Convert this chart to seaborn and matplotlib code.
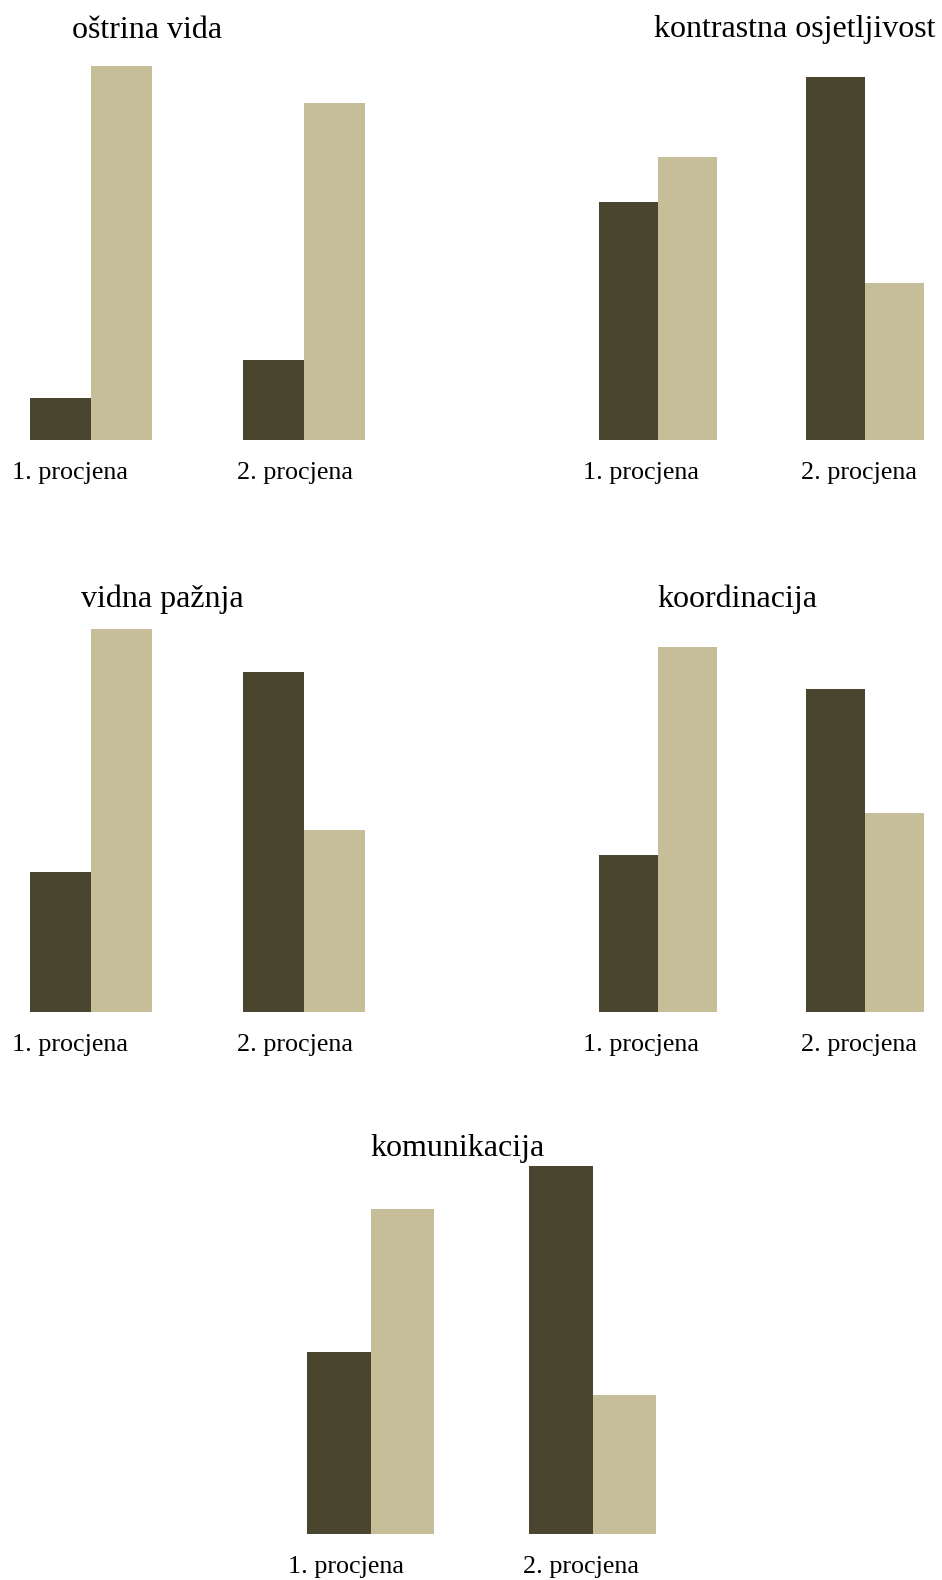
import matplotlib
matplotlib.use("Agg")
import matplotlib.pyplot as plt
import matplotlib.transforms as mtransforms
import seaborn as sns
import pandas as pd

# data (percent of participants)
titles = ["oštrina vida", "kontrastna osjetljivost", "vidna pažnja",
          "koordinacija", "komunikacija"]
assessments = ["1. procjena", "2. procjena"]
series = ["skupina 1", "skupina 2"]
dark_values = [[10.2, 19.2], [45.7, 69.8], [26.8, 65.1], [30.1, 61.9], [35.8, 72.6]]
light_values = [[89.8, 80.8], [54.3, 30.2], [73.2, 34.9], [69.9, 38.1], [64.2, 27.4]]

colors = ["#4a452e", "#c5be98"]
bar_width = 0.572

W, H, DPI = 942, 1580, 100

# layout in pixels: axes box (left, right, baseline, top of tallest bar)
boxes = [(29.7, 364.7, 440, 66), (598.7, 924, 440, 76.7),
         (29.7, 364.7, 1012.3, 629.3), (598.7, 924, 1012.3, 646.7),
         (307.3, 656.3, 1533.7, 1166)]
title_pos = [(147.5, 38), (794.5, 37), (162.7, 607), (737.2, 607), (457.8, 1156)]
label_shift = [(-20.7, -8.7), (-17.1, -5.7), (-20.7, -8.7), (-17.1, -5.7), (-24.8, -11.8)]
label_gap = [38.5, 38.5, 39, 39, 39.5]

sns.set_theme(style="white")
plt.rcParams["font.family"] = ["Liberation Serif", "DejaVu Serif"]

fig = plt.figure(figsize=(W / DPI, H / DPI), dpi=DPI)

for i, title in enumerate(titles):
    df = pd.DataFrame({
        "procjena": assessments * 2,
        "skupina": [series[0]] * 2 + [series[1]] * 2,
        "postotak": dark_values[i] + light_values[i],
    })
    left, right, bottom, top = boxes[i]
    ax = fig.add_axes([left / W, 1 - bottom / H, (right - left) / W, (bottom - top) / H])
    sns.barplot(data=df, x="procjena", y="postotak", hue="skupina",
                order=assessments, hue_order=series, palette=colors,
                width=bar_width, saturation=1, errorbar=None, linewidth=0,
                legend=False, ax=ax)
    ax.set_xlim(-bar_width / 2, 1 + bar_width / 2)
    ax.set_ylim(0, df["postotak"].max())
    ax.set_yticks([])
    ax.set_xlabel("")
    ax.set_ylabel("")
    sns.despine(ax=ax, left=True, bottom=True)
    ax.tick_params(axis="x", length=0, pad=label_gap[i] * 72 / DPI, labelsize=18.8)
    for lab, dx in zip(ax.get_xticklabels(), label_shift[i]):
        lab.set_va("baseline")
        lab.set_color("black")
        lab.set_transform(lab.get_transform() +
                          mtransforms.ScaledTranslation(dx / DPI, 0, fig.dpi_scale_trans))

    tx, ty = title_pos[i]
    fig.text(tx / W, 1 - ty / H, title, ha="center", va="baseline",
             fontsize=23, color="black")

fig.savefig("out.png", dpi=DPI)
